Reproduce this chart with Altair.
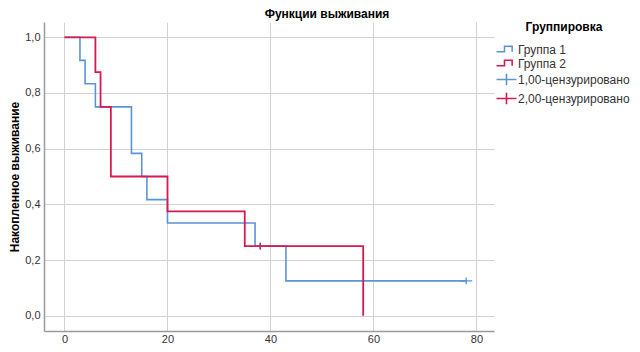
import altair as alt
import pandas as pd

# Kaplan-Meier steps
g1_time = [0, 3, 4, 6, 13, 15, 16, 20, 37, 43, 78]
g1_surv = [1.0, 0.917, 0.833, 0.75, 0.583, 0.5, 0.417, 0.333, 0.25, 0.125, 0.125]
g2_time = [0, 6, 7, 9, 20, 35, 58]
g2_surv = [1.0, 0.875, 0.75, 0.5, 0.375, 0.25, 0.0]
cens_time = [38, 78, 38]
cens_surv = [0.25, 0.125, 0.25]
cens_key = ["1,00-цензурировано", "1,00-цензурировано", "2,00-цензурировано"]

keys = ["Группа 1", "Группа 2", "1,00-цензурировано", "2,00-цензурировано"]
colors = ["#5b93d6", "#d6194f", "#5b93d6", "#d6194f"]
step_path = "M-1.5,0.35H-0.3V-0.5H0.85V0.35"
cross_path = "M-1.5,0H1.5M0,-0.85V0.85"
shapes = [step_path, step_path, cross_path, cross_path]

x_ticks = [0, 20, 40, 60, 80]
y_ticks = [0.0, 0.2, 0.4, 0.6, 0.8, 1.0]

df1 = pd.DataFrame({"t": g1_time, "s": g1_surv, "key": "Группа 1"})
df2 = pd.DataFrame({"t": g2_time, "s": g2_surv, "key": "Группа 2"})
dfc = pd.DataFrame({"t": cens_time, "s": cens_surv, "key": cens_key})

FONT = "Liberation Sans"

x_enc = alt.X(
    "t:Q",
    scale=alt.Scale(domain=[-3.98, 83.4], nice=False, zero=False),
    axis=alt.Axis(values=x_ticks, title=None, format="d"),
)
y_enc = alt.Y(
    "s:Q",
    scale=alt.Scale(domain=[-0.055, 1.055], nice=False, zero=False),
    axis=alt.Axis(
        values=y_ticks,
        labelExpr="replace(format(datum.value, '.1f'), '.', ',')",
        title="Накопленное выживание",
    ),
)
cscale = alt.Scale(domain=keys, range=colors)
sscale = alt.Scale(domain=keys, range=shapes)
leg = alt.Legend(title="Группировка", orient="none", legendX=455, legendY=0)

line1 = alt.Chart(df1).mark_line(interpolate="step-after", strokeWidth=1.6).encode(
    x=x_enc, y=y_enc, color=alt.Color("key:N", scale=cscale, legend=leg)
)
line2 = alt.Chart(df2).mark_line(interpolate="step-after", strokeWidth=1.8).encode(
    x=x_enc, y=y_enc, color=alt.Color("key:N", scale=cscale, legend=leg)
)
pts = alt.Chart(dfc).mark_point(filled=False, size=64, strokeWidth=1.3, opacity=1).encode(
    x=x_enc,
    y=y_enc,
    color=alt.Color("key:N", scale=cscale, legend=leg),
    shape=alt.Shape("key:N", scale=sscale, legend=leg),
)

chart = (
    alt.layer(line1, line2, pts)
    .properties(
        width=450,
        height=309,
        autosize=alt.AutoSizeParams(type="none"),
        padding={"left": 36, "top": 14, "right": 138, "bottom": 13},
        title=alt.TitleParams(
            "Функции выживания",
            anchor="middle",
            dx=58,
            offset=1,
            font=FONT,
            fontSize=12,
            fontWeight="bold",
            color="#000000",
        ),
    )
    .configure_view(stroke=None)
    .configure_axis(
        labelFont=FONT,
        labelFontSize=11,
        labelColor="#333333",
        ticks=False,
        domainColor="#9a9a9a",
        domainWidth=1.5,
        gridColor="#d2d2d2",
        gridWidth=1,
        titleFont=FONT,
        titleFontSize=12,
        titleFontWeight="bold",
        titleColor="#000000",
    )
    .configure_axisX(labelPadding=2)
    .configure_axisY(labelPadding=4, titlePadding=3)
    .configure_legend(
        titleFont=FONT,
        titleFontSize=12,
        titleFontWeight="bold",
        titleColor="#000000",
        titleAnchor="middle",
        titlePadding=8,
        labelFont=FONT,
        labelFontSize=12,
        labelColor="#333333",
        symbolSize=176,
        symbolStrokeWidth=1.6,
        labelOffset=4,
        rowPadding=0,
    )
)

chart.save("out.html", embed_options={"renderer": "svg", "actions": False})
